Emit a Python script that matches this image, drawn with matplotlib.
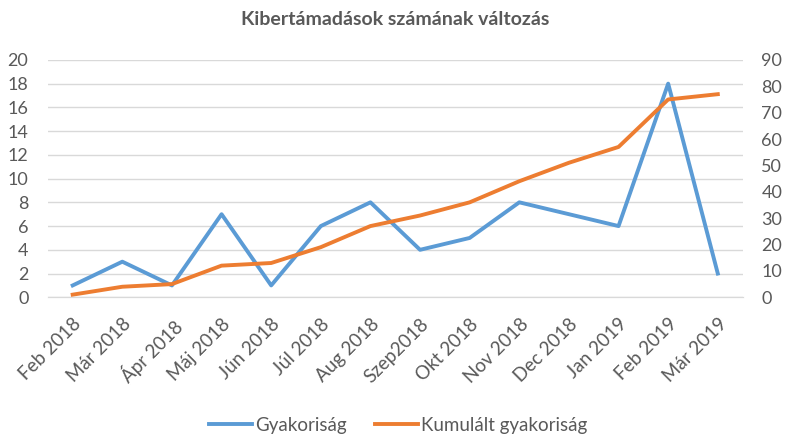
import matplotlib.pyplot as plt

honapok = ['Feb 2018', 'Már 2018', 'Ápr 2018', 'Máj 2018', 'Jún 2018', 'Júl 2018',
           'Aug 2018', 'Szep2018', 'Okt 2018', 'Nov 2018', 'Dec 2018', 'Jan 2019',
           'Feb 2019', 'Már 2019']
gyakorisag = [1, 3, 1, 7, 1, 6, 8, 4, 5, 8, 7, 6, 18, 2]
kumulalt = [1, 4, 5, 12, 13, 19, 27, 31, 36, 44, 51, 57, 75, 77]

plt.rcParams['font.family'] = ['Lato', 'DejaVu Sans']
kek = '#5B9BD5'
narancs = '#ED7D31'
szurke = '#595959'

fig = plt.figure(figsize=(7.85, 4.34), dpi=100)
ax = fig.add_axes([0.061, 0.315, 0.885, 0.547])
ax2 = ax.twinx()

x = range(len(honapok))
ax.grid(axis='y', color='#D9D9D9', lw=1)
ax.set_axisbelow(True)
l1, = ax.plot(x, gyakorisag, color=kek, lw=2.8, solid_joinstyle='round')
l2, = ax2.plot(x, kumulalt, color=narancs, lw=2.8, solid_joinstyle='round')

ax.set_xlim(-0.5, len(honapok) - 0.5)
ax.set_ylim(0, 20)
ax.set_yticks(range(0, 21, 2))
ax2.set_ylim(0, 90)
ax2.set_yticks(range(0, 91, 10))
ax.set_xticks(list(x))
ax.set_xticklabels(honapok, rotation=45, ha='right', rotation_mode='anchor')

for a in (ax, ax2):
    for s in ('top', 'left', 'right'):
        a.spines[s].set_visible(False)
    a.spines['bottom'].set_color('#D9D9D9')
    a.tick_params(length=0, labelsize=13, colors=szurke)
ax.tick_params(axis='x', labelsize=13.5, pad=13)
ax.tick_params(axis='y', pad=14)
ax2.tick_params(axis='y', pad=13.5)

fig.suptitle('Kibertámadások számának változás', x=0.503, y=0.975,
             fontsize=14, fontweight='bold', color=szurke)

fig.legend([l1, l2], ['Gyakoriság', 'Kumulált gyakoriság'], loc='lower center',
           bbox_to_anchor=(0.507, -0.038), ncol=2, frameon=False, fontsize=13.5,
           handlelength=2.3, handletextpad=0.15, columnspacing=1.5, labelcolor=szurke)

fig.savefig('out.png', dpi=100)
